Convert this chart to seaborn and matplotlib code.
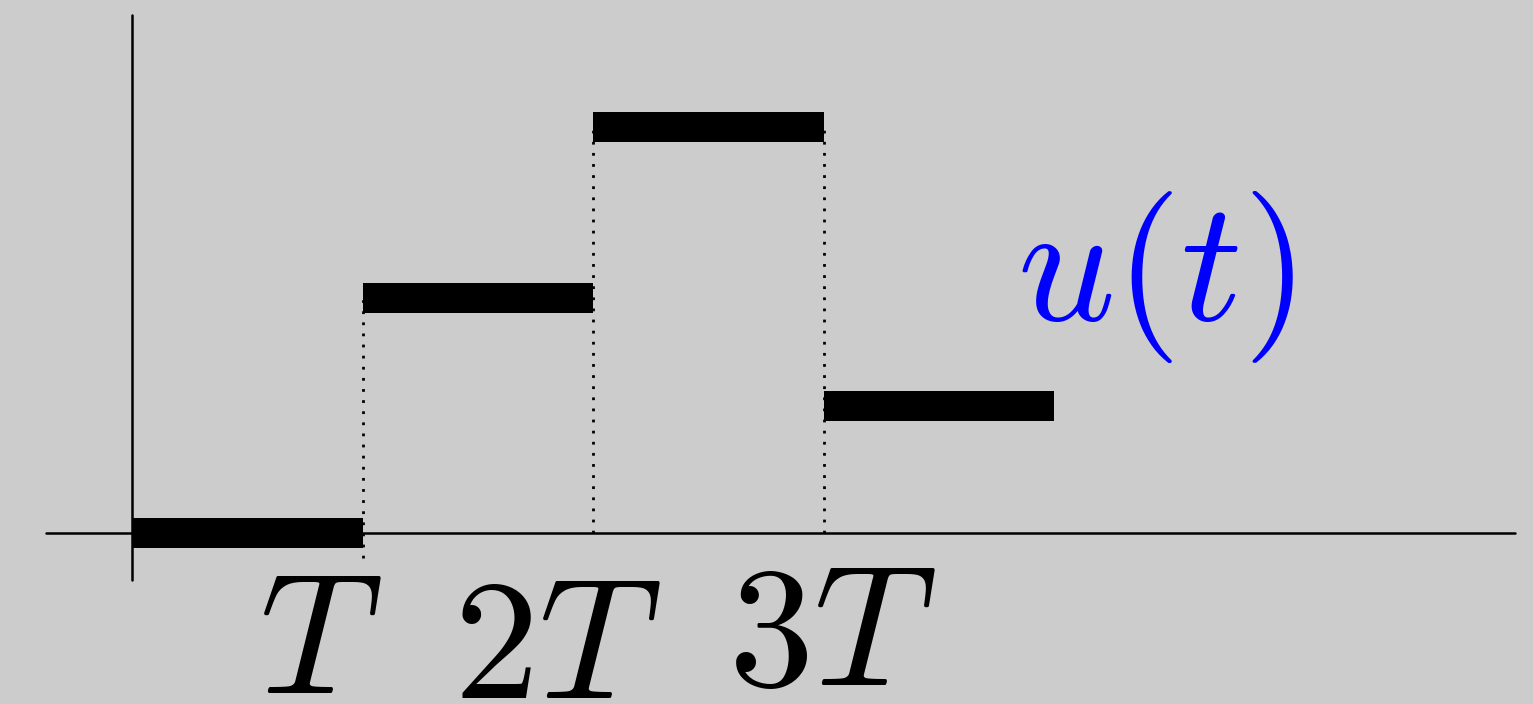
import seaborn as sns
import matplotlib.pyplot as plt
import pandas as pd

sns.set_style("white")
plt.rcParams['mathtext.fontset'] = 'cm'

# piecewise constant input, one level per period T
levels = [0.0, 1.0, 1.728, 0.54]
periods = [0, 1, 2, 3]
tick_labels = ['$T$', '$2T$', '$3T$']

rows = []
for k, u in zip(periods, levels):
    rows.append({'seg': k, 't': k, 'u': u})
    rows.append({'seg': k, 't': k + 1, 'u': u})
steps = pd.DataFrame(rows)

bg = '#cccccc'
fig = plt.figure(figsize=(15.33, 7.04), dpi=100, facecolor=bg)
ax = fig.add_axes([0, 0, 1, 1])
ax.set_facecolor(bg)

# axes drawn as plain lines
ax.plot([-0.373, 6.0], [0, 0], color='black', lw=1.8)
ax.plot([0, 0], [-0.2, 2.204], color='black', lw=1.8)

# dotted guides at the switching instants
dot = (0, (1, 3.0))
ax.plot([1, 1], [-0.106, levels[1]], color='black', lw=2.0, linestyle=dot)
ax.plot([2, 2], [0, levels[2]], color='black', lw=2.0, linestyle=dot)
ax.plot([3, 3], [0, levels[2]], color='black', lw=2.0, linestyle=dot)

sns.lineplot(data=steps, x='t', y='u', units='seg', estimator=None, sort=False,
             color='black', lw=21.6, solid_capstyle='butt', legend=False, ax=ax)

label_x = [0.815, 1.845, 3.037]
label_y = [-0.681, -0.702, -0.647]
for lab, x, y in zip(tick_labels, label_x, label_y):
    ax.text(x, y, lab, fontsize=123, ha='center', va='baseline', color='black')

ax.text(4.44, 0.906, '$u(t)$', fontsize=123, ha='center', va='baseline', color='blue')

ax.set_xlim(-0.5727, 6.078)
ax.set_ylim(-0.7277, 2.268)
ax.axis('off')

fig.savefig('out.png', dpi=100, facecolor=bg)
